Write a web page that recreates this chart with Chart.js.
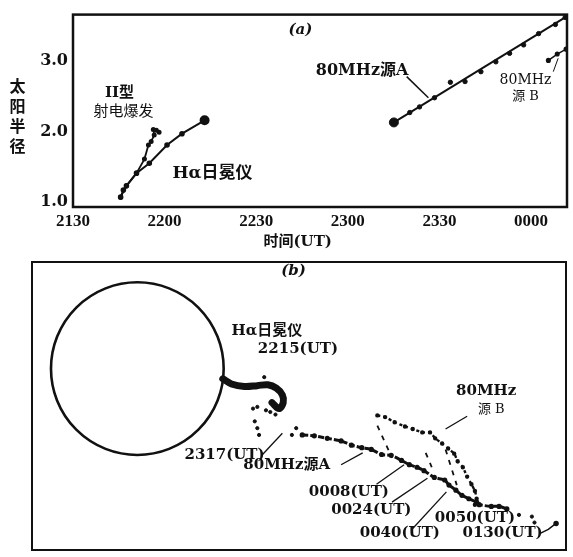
<!DOCTYPE html>
<html>
<head>
<meta charset="utf-8">
<script src="https://cdn.jsdelivr.net/npm/chart.js@4.4.0/dist/chart.umd.min.js"></script>
<style>
body{margin:0;background:#fff;}
#wrap{position:relative;width:573px;height:557px;}
canvas{position:absolute;left:0;}
#chartA{top:0;}
#chartB{top:255px;}
</style>
</head>
<body>
<div id="wrap">
<canvas id="chartA" width="573" height="255"></canvas>
<canvas id="chartB" width="573" height="302"></canvas>
</div>
<script>
// (a) 横轴: 自 2130 UT 起的分钟数; 纵轴: 太阳半径
var timeTicks = [0, 30, 60, 90, 120, 150];
var timeLabels = ["2130", "2200", "2230", "2300", "2330", "0000"];
var radiusTicks = [1, 2, 3];

var haTime = [15.6, 16.5, 17.5, 20.8, 25.0, 30.8, 35.7, 43.1];
var haRadius = [1.07, 1.17, 1.23, 1.41, 1.55, 1.81, 1.97, 2.16];
var type2Time = [15.6, 17.5, 20.8, 23.4, 24.7, 25.6, 26.6, 26.3, 27.3, 28.2];
var type2Radius = [1.07, 1.23, 1.41, 1.61, 1.81, 1.86, 1.95, 2.03, 2.02, 1.99];
var srcATime = [105.1, 110.3, 113.5, 118.4, 123.6, 128.4, 133.6, 138.5, 143.0, 147.6, 152.5, 158.0, 161.2];
var srcARadius = [2.13, 2.27, 2.35, 2.48, 2.70, 2.71, 2.85, 2.99, 3.11, 3.23, 3.39, 3.52, 3.62];
var srcBTime = [155.7, 158.6, 161.5];
var srcBRadius = [3.01, 3.10, 3.17];

// (b) 天空平面位置, 以太阳半径为单位, 日面中心为原点
var sunRadius = 1;
var haBlobX = [0.99, 1.09, 1.24, 1.39, 1.51, 1.61, 1.68, 1.69, 1.64, 1.56];
var haBlobY = [-0.12, -0.18, -0.21, -0.20, -0.19, -0.23, -0.31, -0.40, -0.47, -0.40];
var haDotsX = [1.47, 1.34, 1.39, 1.49, 1.54, 1.60, 1.36, 1.39, 1.41];
var haDotsY = [-0.10, -0.47, -0.45, -0.49, -0.51, -0.54, -0.62, -0.70, -0.78];
var srcAX = [1.91, 2.05, 2.20, 2.36, 2.48, 2.60, 2.71, 2.83, 2.94, 3.06, 3.15, 3.24, 3.32, 3.44, 3.56, 3.61, 3.69, 3.76, 3.84, 3.93, 3.96, 4.10, 4.19, 4.28];
var srcAY = [-0.78, -0.79, -0.82, -0.85, -0.90, -0.93, -0.95, -1.01, -1.02, -1.08, -1.13, -1.16, -1.20, -1.28, -1.31, -1.37, -1.43, -1.49, -1.53, -1.57, -1.60, -1.62, -1.62, -1.65];
var srcAExtraX = [1.84, 1.79, 4.42, 4.57, 4.60];
var srcAExtraY = [-0.70, -0.78, -1.72, -1.74, -1.81];
var srcBX = [2.78, 2.87, 2.98, 3.10, 3.19, 3.30, 3.39, 3.45, 3.53, 3.60, 3.67, 3.71, 3.77, 3.82, 3.87, 3.91, 3.93, 3.91];
var srcBY = [-0.55, -0.57, -0.63, -0.68, -0.71, -0.75, -0.75, -0.82, -0.88, -0.94, -1.00, -1.09, -1.16, -1.27, -1.36, -1.44, -1.53, -1.60];
var rays = [[2.78, -0.67, 2.95, -1.05], [3.34, -0.99, 3.41, -1.16], [3.57, -0.95, 3.70, -1.37]];
var mark0130X = [4.66, 4.76, 4.85];
var mark0130Y = [-1.94, -1.89, -1.82];

var INK = '#111';
var SERIF = '"DejaVu Serif", "Noto Sans CJK SC", serif';

function pts(xs, ys){
    var out = [];
    for(var i=0; i<xs.length; i++) out.push({x:xs[i], y:ys[i]});
    return out;
}
function seg(a){ return [{x:a[0], y:a[1]}, {x:a[2], y:a[3]}]; }
function leaderSet(a, w){
    return {data:seg(a), showLine:true, borderColor:INK, borderWidth:w||1.3, pointRadius:0};
}

// 文字与边框
var textPlugin = {
    id:'texts',
    afterDatasetsDraw:function(chart, args, opts){
        var ctx = chart.ctx, sx = chart.scales.x, sy = chart.scales.y;
        ctx.save();
        ctx.fillStyle = INK;
        ctx.textAlign = 'center';
        ctx.textBaseline = 'middle';
        opts.items.forEach(function(it){
            ctx.font = it.font;
            var lines = it.text.split('\n');
            var lh = it.lh || 20;
            var px = sx.getPixelForValue(it.x);
            var py = sy.getPixelForValue(it.y) - (lines.length-1)*lh/2;
            lines.forEach(function(l, i){ ctx.fillText(l, px, py + i*lh); });
        });
        var a = chart.chartArea;
        ctx.lineWidth = opts.frame;
        ctx.strokeStyle = INK;
        ctx.strokeRect(a.left, a.top, a.right-a.left, a.bottom-a.top);
        ctx.restore();
    }
};

var bigLast = function(c){ return c.dataIndex === c.dataset.data.length-1 ? 4 : 1.8; };
var bigFirst = function(c){ return c.dataIndex === 0 ? 4.5 : 2.2; };

var chartA = new Chart(document.getElementById('chartA'), {
    type:'scatter',
    plugins:[textPlugin],
    data:{
        datasets:[
            {data:pts(haTime, haRadius), showLine:true, borderColor:INK, borderWidth:2, backgroundColor:INK, pointRadius:bigLast},
            {data:pts(type2Time, type2Radius), showLine:true, borderColor:INK, borderWidth:1.8, backgroundColor:INK, pointRadius:1.6},
            {data:[{x:srcATime[0], y:srcARadius[0]}, {x:srcATime[srcATime.length-1], y:srcARadius[srcARadius.length-1]}], showLine:true, borderColor:INK, borderWidth:2, pointRadius:0},
            {data:pts(srcATime, srcARadius), backgroundColor:INK, borderColor:INK, pointRadius:bigFirst},
            {data:pts(srcBTime, srcBRadius), showLine:true, borderColor:INK, borderWidth:1.5, backgroundColor:INK, pointRadius:1.8},
            leaderSet([109.3, 2.78, 116.4, 2.48], 1.5),
            leaderSet([157.3, 2.85, 158.9, 3.04], 1)
        ]
    },
    options:{
        responsive:false,
        animation:false,
        events:[],
        layout:{padding:{top:9, right:1, left:0, bottom:0}},
        plugins:{
            legend:{display:false},
            tooltip:{enabled:false},
            texts:{
                frame:2.5,
                items:[
                    {text:'(a)', x:74.5, y:3.44, font:'italic bold 15px ' + SERIF},
                    {text:'80MHz源A', x:94.7, y:2.86, font:'bold 16px ' + SERIF},
                    {text:'80MHz', x:148.2, y:2.72, font:'14px ' + SERIF},
                    {text:'源 B', x:148.2, y:2.49, font:'13px ' + SERIF},
                    {text:'II型', x:15.2, y:2.54, font:'bold 15px ' + SERIF},
                    {text:'射电爆发', x:16.5, y:2.30, font:'15px "Noto Sans CJK SC"'},
                    {text:'Hα日冕仪', x:45.7, y:1.40, font:'bold 17px ' + SERIF},
                    {text:'时间(UT)', x:73.6, y:0.43, font:'bold 15px ' + SERIF},
                    {text:'太\n阳\n半\n径', x:-18.2, y:2.22, font:'bold 16px "Noto Sans CJK SC"', lh:20}
                ]
            }
        },
        scales:{
            x:{
                type:'linear', min:0, max:161.8,
                grid:{display:false, drawTicks:false},
                border:{display:false},
                afterBuildTicks:function(s){ s.ticks = timeTicks.map(function(v){ return {value:v}; }); },
                afterFit:function(s){ s.height = 48; },
                ticks:{
                    callback:function(v, i){ return timeLabels[i]; },
                    font:{family:'"Liberation Serif"', size:17, weight:'bold'},
                    color:INK, padding:4, maxRotation:0, autoSkip:false
                }
            },
            y:{
                min:0.93, max:3.66,
                grid:{display:false, drawTicks:false},
                border:{display:false},
                afterBuildTicks:function(s){ s.ticks = radiusTicks.map(function(v){ return {value:v}; }); },
                afterFit:function(s){ s.width = 73; },
                ticks:{
                    callback:function(v){ return v.toFixed(1); },
                    font:{family:'"DejaVu Serif"', size:16, weight:'bold'},
                    color:INK, padding:5
                }
            }
        }
    }
});

var chartB = new Chart(document.getElementById('chartB'), {
    type:'scatter',
    plugins:[textPlugin],
    data:{
        datasets:[
            {data:[{x:0, y:0}], backgroundColor:'rgba(0,0,0,0)', borderColor:INK, borderWidth:2.6,
             pointRadius:function(c){ var s = c.chart.scales.x; return s.getPixelForValue(sunRadius) - s.getPixelForValue(0); }},
            {data:pts(haBlobX, haBlobY), showLine:true, borderColor:INK, borderWidth:7, tension:0.35,
             borderCapStyle:'round', borderJoinStyle:'round', pointRadius:0},
            {data:pts(haDotsX, haDotsY), backgroundColor:INK, borderColor:INK, pointRadius:1.6},
            {data:pts(srcAX, srcAY), showLine:true, borderColor:INK, borderWidth:3, borderDash:[6,2], tension:0.2,
             backgroundColor:INK, pointRadius:1.1},
            {data:pts(srcAExtraX, srcAExtraY), backgroundColor:INK, borderColor:INK, pointRadius:1.6},
            {data:pts(srcBX, srcBY), showLine:true, borderColor:INK, borderWidth:2.4, borderDash:[3,3], tension:0.2,
             backgroundColor:INK, pointRadius:1},
            {data:seg(rays[0]), showLine:true, borderColor:INK, borderWidth:1.8, borderDash:[5,6], pointRadius:0},
            {data:seg(rays[1]), showLine:true, borderColor:INK, borderWidth:1.8, borderDash:[5,6], pointRadius:0},
            {data:seg(rays[2]), showLine:true, borderColor:INK, borderWidth:1.8, borderDash:[5,6], pointRadius:0},
            {data:pts(mark0130X, mark0130Y), showLine:true, borderColor:INK, borderWidth:1.5, backgroundColor:INK,
             pointRadius:function(c){ return c.dataIndex === 2 ? 2 : 0; }},
            leaderSet([3.57, -0.71, 3.82, -0.56]),
            leaderSet([1.45, -1.01, 1.68, -0.76]),
            leaderSet([2.36, -1.13, 2.61, -0.99]),
            leaderSet([2.77, -1.36, 3.09, -1.13]),
            leaderSet([2.95, -1.57, 3.36, -1.29]),
            leaderSet([3.19, -1.88, 3.58, -1.45])
        ]
    },
    options:{
        responsive:false,
        animation:false,
        events:[],
        layout:{padding:{top:6, right:6, left:32, bottom:3}},
        plugins:{
            legend:{display:false},
            tooltip:{enabled:false},
            texts:{
                frame:2,
                items:[
                    {text:'(b)', x:1.81, y:1.15, font:'italic bold 15px ' + SERIF},
                    {text:'Hα日冕仪', x:1.50, y:0.445, font:'bold 15px ' + SERIF},
                    {text:'2215(UT)', x:1.86, y:0.225, font:'bold 15px ' + SERIF},
                    {text:'80MHz', x:4.04, y:-0.26, font:'bold 15px ' + SERIF},
                    {text:'源 B', x:4.10, y:-0.48, font:'13px ' + SERIF},
                    {text:'2317(UT)', x:1.01, y:-1.02, font:'bold 15px ' + SERIF},
                    {text:'80MHz源A', x:1.73, y:-1.14, font:'bold 15px ' + SERIF},
                    {text:'0008(UT)', x:2.45, y:-1.45, font:'bold 15px ' + SERIF},
                    {text:'0024(UT)', x:2.71, y:-1.66, font:'bold 15px ' + SERIF},
                    {text:'0040(UT)', x:3.04, y:-1.94, font:'bold 15px ' + SERIF},
                    {text:'0050(UT)', x:3.91, y:-1.76, font:'bold 15px ' + SERIF},
                    {text:'0130(UT)', x:4.23, y:-1.94, font:'bold 15px ' + SERIF}
                ]
            }
        },
        scales:{
            x:{type:'linear', display:false, min:-1.22, max:4.965},
            y:{type:'linear', display:false, min:-2.133, max:1.254}
        }
    }
});
</script>
</body>
</html>
